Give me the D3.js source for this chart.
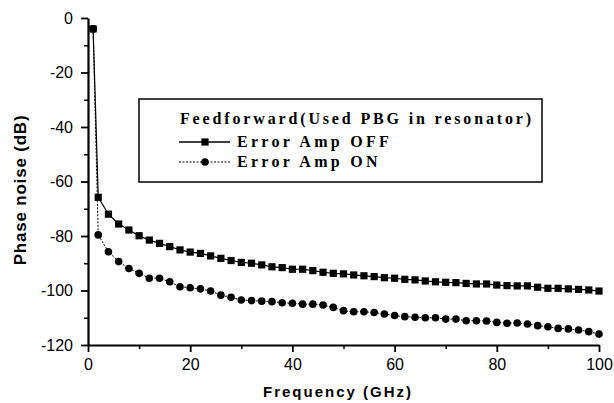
<!DOCTYPE html>
<html>
<head>
<meta charset="utf-8">
<script src="https://cdn.jsdelivr.net/npm/d3@7/dist/d3.min.js"></script>
<style>
  body { margin: 0; background: #fff; }
  svg { display: block; }
  .tick text { font-family: "Liberation Sans", Arial, sans-serif; font-size: 16px; fill: #000; }
</style>
</head>
<body>
<div id="main"></div>
<script>
// frequencies (GHz) of each measured point
const freq = [1, 2, 4, 6, 8, 10, 12, 14, 16, 18, 20, 22, 24, 26, 28, 30, 32, 34, 36, 38, 40,
  42, 44, 46, 48, 50, 52, 54, 56, 58, 60, 62, 64, 66, 68, 70, 72, 74, 76, 78, 80,
  82, 84, 86, 88, 90, 92, 94, 96, 98, 100];

// Error Amp OFF (dB)
const ampOff = [-4, -65.8, -72, -75.6, -77.8, -79.9, -81.5, -82.7, -83.9, -85.1, -85.9, -86.4,
  -87.3, -88.2, -89, -89.7, -90, -90.6, -91.3, -91.6, -92.2, -92.2, -92.7, -93.3, -93.7,
  -93.9, -94.3, -94.6, -94.9, -95.3, -95.5, -95.9, -96.1, -96.5, -96.8, -97, -97.1, -97.4,
  -97.6, -97.6, -98, -98.2, -98.3, -98.3, -98.8, -99.2, -99.2, -99.4, -99.6, -99.8, -100.2];

// Error Amp ON (dB)
const ampOn = [-4, -79.6, -85.8, -89.4, -91.9, -93.7, -95.5, -95.5, -96.8, -98.6, -99, -99.4,
  -100.2, -101.7, -102.5, -103.5, -103.7, -103.9, -104.1, -104.5, -104.7, -105, -105, -105.3, -106.2,
  -107.4, -107.8, -107.8, -108.1, -108.6, -109.2, -109.6, -109.8, -110, -110, -110.5, -110.5, -111.1,
  -111.1, -111.2, -111.7, -112, -111.9, -112.3, -112.9, -113.3, -113.9, -114.1, -114.5, -115.1, -116];

const xTicks = [0, 20, 40, 60, 80, 100];
const yTicks = [0, -20, -40, -60, -80, -100, -120];
const legendTitle = "Feedforward(Used PBG in resonator)";
const seriesNames = ["Error Amp OFF", "Error Amp ON"];

const W = 614, H = 403;
const m = { left: 88, top: 18, right: 15, bottom: 58 };
const h = H - m.top - m.bottom;

const svg = d3.select("#main").append("svg")
  .attr("width", W).attr("height", H);

const g = svg.append("g").attr("transform", `translate(${m.left},${m.top})`);

const x = d3.scaleLinear().domain([0, 100]).range([0, 511]);
const y = d3.scaleLinear().domain([-120, 0]).range([h, 0]);

// minor ticks
g.append("g")
  .attr("transform", `translate(0,${h})`)
  .call(d3.axisBottom(x).tickValues(d3.range(10, 100, 20)).tickSize(4).tickFormat(""))
  .call(a => a.select(".domain").remove())
  .selectAll("line").attr("stroke-width", 1.5);
g.append("g")
  .call(d3.axisLeft(y).tickValues(d3.range(-110, 0, 20)).tickSize(4).tickFormat(""))
  .call(a => a.select(".domain").remove())
  .selectAll("line").attr("stroke-width", 1.5);

// major axes
const xAxis = g.append("g")
  .attr("transform", `translate(0,${h})`)
  .call(d3.axisBottom(x).tickValues(xTicks).tickSize(7).tickSizeOuter(0).tickPadding(7));
xAxis.select(".domain").attr("stroke-width", 2.2);
xAxis.selectAll("line").attr("stroke-width", 1.8);

const yAxis = g.append("g")
  .call(d3.axisLeft(y).tickValues(yTicks).tickSize(7).tickSizeOuter(0).tickPadding(8)
    .tickFormat(d => d === 0 ? "0" : "-" + Math.abs(d)));
yAxis.select(".domain").attr("stroke-width", 2.2);
yAxis.selectAll("line").attr("stroke-width", 1.8);

// series
const off = freq.map((f, i) => [f, ampOff[i]]);
const on = freq.map((f, i) => [f, ampOn[i]]);
const line = d3.line().x(d => x(d[0])).y(d => y(d[1]));

g.append("path").datum(off).attr("d", line)
  .attr("fill", "none").attr("stroke", "#000").attr("stroke-width", 1.2);
g.append("path").datum(on).attr("d", line)
  .attr("fill", "none").attr("stroke", "#000").attr("stroke-width", 1)
  .attr("stroke-dasharray", "2,1.5");

g.selectAll("rect.off").data(off).join("rect").attr("class", "off")
  .attr("x", d => x(d[0]) - 3.6).attr("y", d => y(d[1]) - 3.6)
  .attr("width", 7.2).attr("height", 7.2).attr("fill", "#000");
g.selectAll("circle.on").data(on).join("circle").attr("class", "on")
  .attr("cx", d => x(d[0])).attr("cy", d => y(d[1])).attr("r", 3.8).attr("fill", "#000");

// axis titles
svg.append("text")
  .attr("x", 338).attr("y", 397)
  .attr("text-anchor", "middle")
  .style("font-family", "Liberation Sans, Arial, sans-serif")
  .style("font-size", "15px").style("font-weight", "bold").style("letter-spacing", "2px")
  .text("Frequency (GHz)");

svg.append("text")
  .attr("transform", `translate(26,190) rotate(-90)`)
  .attr("text-anchor", "middle")
  .style("font-family", "Liberation Sans, Arial, sans-serif")
  .style("font-size", "17px").style("font-weight", "bold").style("letter-spacing", "0.8px")
  .text("Phase noise (dB)");

// legend
const lg = svg.append("g");
lg.append("rect")
  .attr("x", 139).attr("y", 99).attr("width", 403).attr("height", 83)
  .attr("fill", "#fff").attr("stroke", "#000").attr("stroke-width", 1.5);
lg.append("text")
  .attr("x", 180).attr("y", 124)
  .style("font-family", "Liberation Serif, Times New Roman, serif")
  .style("font-size", "16px").style("font-weight", "bold").style("letter-spacing", "2.85px")
  .text(legendTitle);

const rows = [142, 162];
seriesNames.forEach((name, i) => {
  const yy = rows[i];
  lg.append("line")
    .attr("x1", 179).attr("x2", 230).attr("y1", yy).attr("y2", yy)
    .attr("stroke", "#000").attr("stroke-width", i === 0 ? 1.5 : 1)
    .attr("stroke-dasharray", i === 0 ? null : "2,1.5");
  if (i === 0) {
    lg.append("rect").attr("x", 201.4).attr("y", yy - 3.6).attr("width", 7.2).attr("height", 7.2).attr("fill", "#000");
  } else {
    lg.append("circle").attr("cx", 205).attr("cy", yy).attr("r", 3.8).attr("fill", "#000");
  }
  lg.append("text")
    .attr("x", 237).attr("y", yy + 5)
    .style("font-family", "Liberation Serif, Times New Roman, serif")
    .style("font-size", "16px").style("font-weight", "bold").style("letter-spacing", "3.3px")
    .text(name);
});
</script>
</body>
</html>
